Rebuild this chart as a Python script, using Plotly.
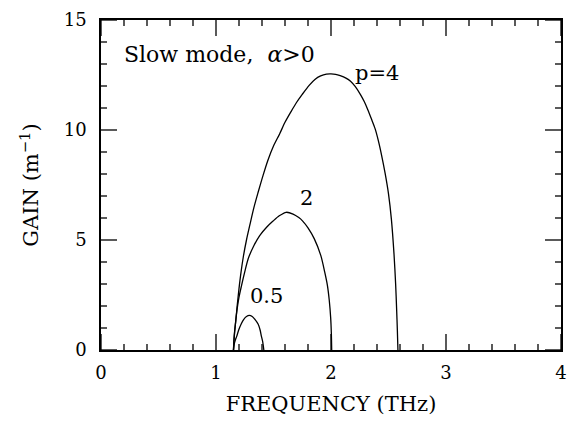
import plotly.graph_objects as go

# p = 4 curve (frequency THz, gain m^-1)
freq_p4 = [1.152, 1.156, 1.162, 1.172, 1.185, 1.200, 1.218, 1.238, 1.265, 1.296, 1.330, 1.367,
           1.410, 1.453, 1.500, 1.553, 1.600, 1.654, 1.700, 1.750, 1.810, 1.860, 1.910, 1.960,
           2.000, 2.040, 2.080, 2.130, 2.170, 2.210, 2.255, 2.290, 2.320, 2.350, 2.384, 2.410,
           2.440, 2.470, 2.500, 2.525, 2.548, 2.562, 2.571, 2.577, 2.582]
gain_p4 = [0.0, 0.45, 0.85, 1.32, 2.05, 2.79, 3.55, 4.25, 5.00, 5.72, 6.48, 7.18,
           7.95, 8.65, 9.27, 9.82, 10.35, 10.85, 11.25, 11.62, 12.03, 12.30, 12.46, 12.54,
           12.55, 12.53, 12.47, 12.36, 12.22, 11.98, 11.62, 11.28, 10.92, 10.52, 10.05, 9.55,
           8.85, 8.05, 7.10, 5.95, 4.35, 3.00, 1.80, 0.90, 0.0]

# p = 2 curve
freq_p2 = [1.152, 1.158, 1.168, 1.182, 1.200, 1.222, 1.250, 1.280, 1.330, 1.380, 1.440,
           1.496, 1.550, 1.610, 1.670, 1.720, 1.754, 1.800, 1.855, 1.911, 1.945, 1.969,
           1.985, 1.997, 2.003, 2.006]
gain_p2 = [0.0, 0.55, 1.15, 1.80, 2.40, 2.93, 3.55, 4.15, 4.75, 5.20, 5.58,
           5.86, 6.10, 6.26, 6.18, 6.02, 5.86, 5.55, 5.05, 4.30, 3.55, 2.93,
           2.25, 1.47, 0.75, 0.0]

# p = 0.5 curve
freq_p05 = [1.152, 1.158, 1.168, 1.180, 1.198, 1.218, 1.240, 1.265, 1.290, 1.315, 1.340,
            1.367, 1.383, 1.395, 1.405, 1.411, 1.416]
gain_p05 = [0.0, 0.25, 0.45, 0.62, 0.92, 1.17, 1.38, 1.52, 1.57, 1.52, 1.38,
            1.17, 0.92, 0.62, 0.40, 0.20, 0.0]

curve_labels = ["p=4", "2", "0.5"]
label_x = [2.40, 1.79, 1.44]
label_y = [12.6, 6.9, 2.45]

# tick values
x_major = [0, 1, 2, 3, 4]
x_minor = [0.2, 0.4, 0.6, 0.8, 1.2, 1.4, 1.6, 1.8, 2.2, 2.4, 2.6, 2.8, 3.2, 3.4, 3.6, 3.8]
y_major = [0, 5, 10, 15]
y_minor = [1, 2, 3, 4, 6, 7, 8, 9, 11, 12, 13, 14]

FONT = "DejaVu Serif"
MAJ_LEN, MIN_LEN = 16, 6

fig = go.Figure()
for fx, gy in [(freq_p4, gain_p4), (freq_p2, gain_p2), (freq_p05, gain_p05)]:
    fig.add_trace(go.Scatter(x=fx, y=gy, mode="lines",
                             line=dict(color="black", width=1.3, shape="spline", smoothing=0.8),
                             showlegend=False, hoverinfo="skip"))

for t, xx, yy in zip(curve_labels, label_x, label_y):
    fig.add_annotation(x=xx, y=yy, text=t, showarrow=False,
                       font=dict(family=FONT, size=21, color="black"))

fig.add_annotation(x=0.18, y=13.45, text="Slow mode,  <i>α</i>>0", showarrow=False,
                   xanchor="left", font=dict(family=FONT, size=22, color="black"))

# inside ticks on all four sides, drawn as pixel-sized shapes at tick values
tick_line = dict(color="black", width=1.3)
for vals, ln in [(x_major, MAJ_LEN), (x_minor, MIN_LEN)]:
    for v in vals:
        fig.add_shape(type="line", xref="x", yref="paper", x0=v, x1=v,
                      ysizemode="pixel", yanchor=0, y0=0, y1=ln, line=tick_line)
        fig.add_shape(type="line", xref="x", yref="paper", x0=v, x1=v,
                      ysizemode="pixel", yanchor=1, y0=0, y1=-ln, line=tick_line)
for vals, ln in [(y_major, MAJ_LEN), (y_minor, MIN_LEN)]:
    for v in vals:
        fig.add_shape(type="line", yref="y", xref="paper", y0=v, y1=v,
                      xsizemode="pixel", xanchor=0, x0=0, x1=ln, line=tick_line)
        fig.add_shape(type="line", yref="y", xref="paper", y0=v, y1=v,
                      xsizemode="pixel", xanchor=1, x0=0, x1=-ln, line=tick_line)

fig.update_xaxes(
    range=[0, 4], tickmode="array", tickvals=x_major, ticktext=[str(v) for v in x_major],
    showgrid=False, zeroline=False, showline=True, linecolor="black", linewidth=1.5,
    mirror=True, ticks="", ticklabelstandoff=6,
    tickfont=dict(family=FONT, size=18, color="black"),
    title=dict(text="FREQUENCY (THz)", font=dict(family=FONT, size=21, color="black"),
               standoff=14),
)
fig.update_yaxes(
    range=[0, 15], tickmode="array", tickvals=y_major, ticktext=[str(v) for v in y_major],
    showgrid=False, zeroline=False, showline=True, linecolor="black", linewidth=1.5,
    mirror=True, ticks="", ticklabelstandoff=9,
    tickfont=dict(family=FONT, size=18, color="black"),
    title=dict(text="GAIN (m<sup>−1</sup>)", font=dict(family=FONT, size=21, color="black"),
               standoff=19),
)

fig.update_layout(width=576, height=425, margin=dict(l=101, r=10, t=9, b=75),
                  plot_bgcolor="white", paper_bgcolor="white")

fig.write_html("out.html")
